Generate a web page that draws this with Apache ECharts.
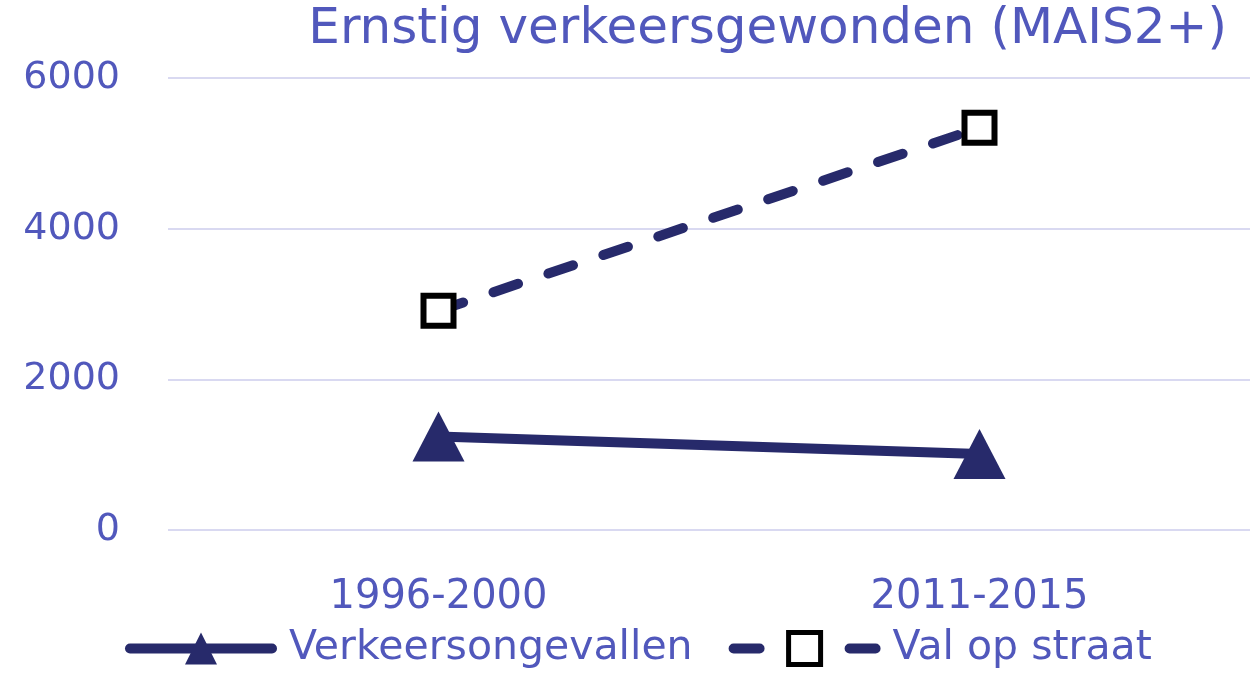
<!DOCTYPE html>
<html><head><meta charset="utf-8">
<script src="https://cdn.jsdelivr.net/npm/echarts@6/dist/echarts.min.js"></script>
<style>html,body{margin:0;padding:0;background:#fff}#c{width:1254px;height:677px}</style>
</head><body><div id="c"></div>
<script>
const categories = ['1996-2000', '2011-2015'];
const verkeersongevallen = [1240, 1010];
const valOpStraat = [2910, 5340];
const yTicks = [0, 2000, 4000, 6000];
const titleText = 'Ernstig verkeersgewonden (MAIS2+)';

const textColor = '#5158BC';
const navy = '#272A6B';
const font = 'DejaVu Sans';

const chart = echarts.init(document.getElementById('c'));
chart.setOption({
  animation: false,
  backgroundColor: '#fff',
  title: {
    text: titleText, right: 22, top: 0,
    textStyle: { fontFamily: font, fontSize: 50, fontWeight: 'normal', color: textColor }
  },
  grid: { left: 168, right: 4, top: 78, bottom: 147, containLabel: false },
  xAxis: {
    type: 'category', data: categories, boundaryGap: true,
    axisLine: { show: false }, axisTick: { show: false },
    axisLabel: { margin: 48, fontFamily: font, fontSize: 40, color: textColor }
  },
  yAxis: {
    type: 'value', min: yTicks[0], max: yTicks[yTicks.length - 1], interval: 2000,
    axisLine: { show: false }, axisTick: { show: false },
    axisLabel: { margin: 48, fontFamily: font, fontSize: 38, color: textColor, formatter: v => String(v) },
    splitLine: { lineStyle: { color: '#D9D9F1', width: 2 } }
  },
  legend: {
    bottom: 3, left: 120, itemWidth: 142, itemHeight: 40, itemGap: 36,
    textStyle: { fontFamily: font, fontSize: 41, color: textColor, padding: [0, 0, 0, 12] },
    lineStyle: { width: 10, cap: 'round' },
    data: [
      { name: 'Verkeersongevallen', itemStyle: { color: navy, borderWidth: 0 } },
      { name: 'Val op straat', itemStyle: { color: '#fff', borderColor: '#000', borderWidth: 5 } }
    ]
  },
  series: [
    {
      name: 'Verkeersongevallen', type: 'line', data: verkeersongevallen,
      symbol: 'triangle', symbolSize: [52, 50],
      lineStyle: { color: navy, width: 10, cap: 'round' },
      itemStyle: { color: navy, borderWidth: 0 }
    },
    {
      name: 'Val op straat', type: 'line', data: valOpStraat,
      symbol: 'rect', symbolSize: 30, showAllSymbol: true,
      lineStyle: { color: navy, width: 10, type: [26, 32], cap: 'round' },
      itemStyle: { color: '#fff', borderColor: '#000', borderWidth: 6 },
      z: 3
    }
  ]
});
</script></body></html>
